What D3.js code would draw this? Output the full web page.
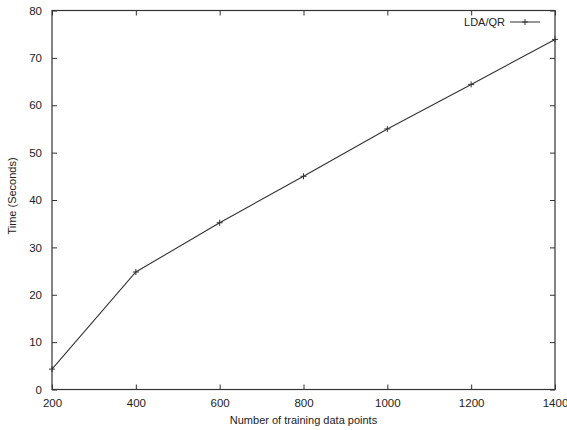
<!DOCTYPE html>
<html><head><meta charset="utf-8">
<script src="https://cdn.jsdelivr.net/npm/d3@7"></script>
<style>body{margin:0;background:#fff}svg{display:block}text{font-family:"Liberation Sans",Arial,sans-serif;fill:#222}</style>
</head><body>
<svg id="c" width="567" height="430"></svg>
<script>
const trainingPoints = [200, 400, 600, 800, 1000, 1200, 1400];
const timeSeconds = [4.3, 24.8, 35.2, 45.0, 55.0, 64.4, 73.9];
const xTicks = [200, 400, 600, 800, 1000, 1200, 1400];
const yTicks = [0, 10, 20, 30, 40, 50, 60, 70, 80];
const seriesName = "LDA/QR";

const svg = d3.select("#c");
const m = {l: 52, r: 12, t: 10.5, b: 40.5};
const W = 567, H = 430;
const x = d3.scaleLinear().domain([200, 1400]).range([m.l, W - m.r]);
const y = d3.scaleLinear().domain([0, 80]).range([H - m.b, m.t]);
const col = "#333";

svg.append("rect").attr("x", x(200)).attr("y", y(80)).attr("width", x(1400) - x(200)).attr("height", y(0) - y(80))
  .attr("fill", "none").attr("stroke", col).attr("stroke-width", 1.2);

const tl = 5;
const gx = svg.append("g").attr("transform", `translate(0,${y(0)})`)
  .call(d3.axisBottom(x).tickValues(xTicks).tickSizeInner(-tl).tickSizeOuter(0).tickPadding(9).tickFormat(d3.format("d")));
const gxt = svg.append("g").attr("transform", `translate(0,${y(80)})`)
  .call(d3.axisTop(x).tickValues(xTicks).tickSizeInner(-tl).tickSizeOuter(0).tickFormat(""));
const gy = svg.append("g").attr("transform", `translate(${x(200)},0)`)
  .call(d3.axisLeft(y).tickValues(yTicks).tickSizeInner(-tl).tickSizeOuter(0).tickPadding(10));
const gyr = svg.append("g").attr("transform", `translate(${x(1400)},0)`)
  .call(d3.axisRight(y).tickValues(yTicks).tickSizeInner(-tl).tickSizeOuter(0).tickFormat(""));
[gx, gxt, gy, gyr].forEach(g => {
  g.select(".domain").remove();
  g.selectAll("line").attr("stroke", col);
  g.selectAll("text").attr("font-size", 11.5).attr("fill", "#222").style("font-family", '"Liberation Sans",Arial,sans-serif');
});

const data = trainingPoints.map((d, i) => ({x: d, y: timeSeconds[i]}));
svg.append("path").datum(data)
  .attr("fill", "none").attr("stroke", col).attr("stroke-width", 1.1)
  .attr("d", d3.line().x(d => x(d.x)).y(d => y(d.y)));
const ms = 3;
svg.append("g").selectAll("path").data(data).join("path")
  .attr("d", d => `M${x(d.x) - ms},${y(d.y)}H${x(d.x) + ms}M${x(d.x)},${y(d.y) - ms}V${y(d.y) + ms}`)
  .attr("stroke", col).attr("stroke-width", 1);

const ly = 22, lx1 = 510, lx2 = 540;
svg.append("text").attr("x", 505).attr("y", ly).attr("dy", "0.35em").attr("text-anchor", "end").attr("font-size", 11).text(seriesName);
svg.append("line").attr("x1", lx1).attr("x2", lx2).attr("y1", ly).attr("y2", ly).attr("stroke", col);
svg.append("path").attr("d", `M${(lx1 + lx2) / 2 - ms},${ly}H${(lx1 + lx2) / 2 + ms}M${(lx1 + lx2) / 2},${ly - ms}V${ly + ms}`).attr("stroke", col);

svg.append("text").attr("x", (x(200) + x(1400)) / 2).attr("y", 424).attr("text-anchor", "middle").attr("font-size", 11).text("Number of training data points");
svg.append("text").attr("transform", `translate(16,196) rotate(-90)`).attr("text-anchor", "middle").attr("font-size", 11).text("Time (Seconds)");
</script>
</body></html>
